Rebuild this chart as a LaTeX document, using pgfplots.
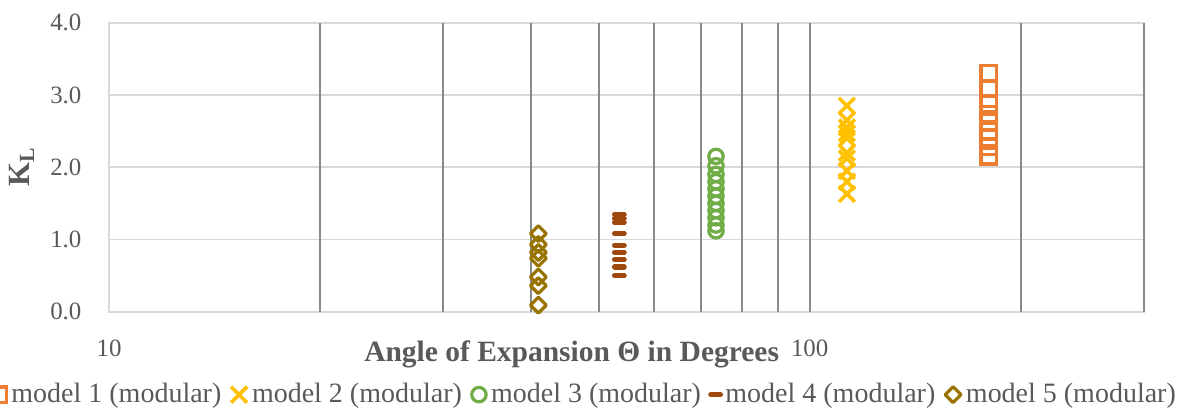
\documentclass[border=0pt]{standalone}
\usepackage{pgfplots}
\pgfplotsset{compat=1.18}
\usepackage{fontspec}
\setmainfont{Liberation Serif}

\definecolor{txtgray}{HTML}{595959}
\definecolor{gridlight}{HTML}{D9D9D9}
\definecolor{griddark}{HTML}{8A8A8A}
\definecolor{mOrange}{HTML}{ED7D31}
\definecolor{mYellow}{HTML}{FFC000}
\definecolor{mGreen}{HTML}{70AD47}
\definecolor{mBrown}{HTML}{9E480E}
\definecolor{mOlive}{HTML}{997300}

\begin{document}
\begin{tikzpicture}
\begin{axis}[
  at={(54.5bp,48.15bp)}, anchor=south west,
  scale only axis, width=517.5bp, height=144.5bp,
  xmode=log, log basis x=10,
  xmin=10, xmax=300, ymin=0, ymax=4,
  xtick={10,100}, xticklabels={10,100},
  xminorticks=false,
  extra x ticks={20,30,40,50,60,70,80,90,100,200,300},
  extra x tick labels={},
  extra x tick style={xmajorgrids=true,
    major grid style={draw=griddark, line width=1bp}},
  ytick={0,1,2,3,4},
  yticklabels={0.0,1.0,2.0,3.0,4.0},
  ymajorgrids,
  major grid style={draw=gridlight, line width=0.8bp},
  axis line style={draw=gridlight, line width=0.8bp},
  major tick length=0pt, minor tick length=0pt,
  /pgf/number format/assume math mode=true,
  ticklabel style={font=\fontsize{12.5}{15}\selectfont, text=txtgray},
  xticklabel style={anchor=base, yshift=-22.5bp},
  yticklabel style={anchor=east, inner sep=0pt, xshift=-13.6bp},
  xlabel={Angle of Expansion Θ in Degrees},
  xlabel style={at={(axis description cs:0.447,0)}, anchor=base,
    yshift=-25bp, font=\bfseries\fontsize{14.8}{17}\selectfont, text=txtgray},
  ylabel={K\textsubscript{L}},
  ylabel style={at={(axis description cs:-0.0841,0.5)}, anchor=center,
    font=\bfseries\fontsize{15.5}{18}\selectfont, text=txtgray},
  legend columns=5,
  legend cell align=left,
  legend style={draw=none, fill=none,
    at={(axis description cs:0.459,-0.287)}, anchor=center,
    font=\fontsize{14.05}{16}\selectfont, text=txtgray,
    nodes={inner sep=0.5bp},
    /tikz/every odd column/.append style={column sep=2bp},
    /tikz/every even column/.append style={column sep=4.4bp}},
  legend image code/.code={\draw[#1] plot coordinates {(0bp,0bp)};},
]

% model 1 (modular)
\addplot[only marks, mark=square, mark size=3.8bp,
  mark options={draw=mOrange, fill=none, line width=1.6bp}]
  coordinates {(180,3.30) (180,3.08) (180,2.88) (180,2.74) (180,2.62)
               (180,2.50) (180,2.40) (180,2.28) (180,2.15)};
\addlegendentry{model 1 (modular)}

% model 2 (modular)
\addplot[only marks, mark=x, mark size=5.6bp,
  mark options={draw=mYellow, line width=1.8bp}]
  coordinates {(113,2.85) (113,2.65) (113,2.55) (113,2.47) (113,2.40)
               (113,2.20) (113,2.12) (113,1.95) (113,1.80) (113,1.63)};
\addlegendentry{model 2 (modular)}

% model 3 (modular)
\addplot[only marks, mark=o, mark size=3.6bp,
  mark options={draw=mGreen, fill=none, line width=1.6bp}]
  coordinates {(73.5,2.15) (73.5,2.02) (73.5,1.90) (73.5,1.80) (73.5,1.70)
               (73.5,1.60) (73.5,1.50) (73.5,1.40) (73.5,1.30) (73.5,1.20)
               (73.5,1.12)};
\addlegendentry{model 3 (modular)}

% model 4 (modular)
\addplot[only marks, mark=-, mark size=2.4bp,
  mark options={draw=mBrown, line width=2.6bp, line cap=round}]
  coordinates {(53.5,1.35) (53.5,1.29) (53.5,1.23) (53.5,1.08) (53.5,0.92)
               (53.5,0.82) (53.5,0.72) (53.5,0.62) (53.5,0.50)};
\addlegendentry{model 4 (modular)}

% model 5 (modular)
\addplot[only marks, mark=square, mark size=2.8bp,
  mark options={draw=mOlive, fill=none, line width=1.6bp, rotate=45,
    line join=round}]
  coordinates {(41,1.08) (41,0.93) (41,0.82) (41,0.74) (41,0.48)
               (41,0.36) (41,0.09)};
\addlegendentry{model 5 (modular)}

\end{axis}
\pgfresetboundingbox
\path[use as bounding box] (0,0) rectangle (590.5bp,204bp);
\end{tikzpicture}
\end{document}
